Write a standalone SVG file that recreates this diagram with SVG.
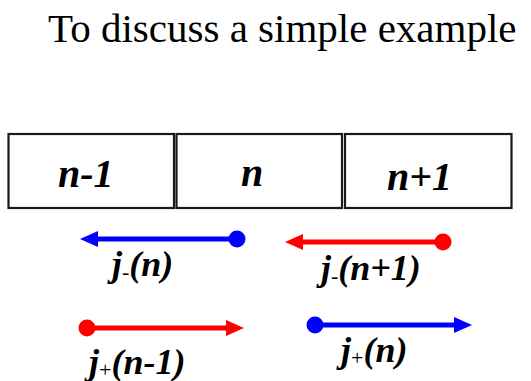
<svg xmlns="http://www.w3.org/2000/svg" width="531" height="381" viewBox="0 0 531 381" font-family="Times New Roman, Liberation Serif, serif">
<rect width="531" height="381" fill="#fff"/>
<text x="48" y="42" font-size="41" fill="#000" font-family="Times New Roman, Liberation Serif, serif">To discuss a simple example</text>
<g id="cell-n-1"><rect x="8.5" y="134" width="165.5" height="74" fill="#fff" stroke="#1a1a1a" stroke-width="2.2"/><text x="58" y="187" fill="#000" font-size="40" font-weight="bold" font-style="italic" font-family="Times New Roman, Liberation Serif, serif">n-1</text></g>
<g id="cell-n"><rect x="176.5" y="134" width="165.5" height="74" fill="#fff" stroke="#1a1a1a" stroke-width="2.2"/><text x="241" y="186" fill="#000" font-size="40" font-weight="bold" font-style="italic" font-family="Times New Roman, Liberation Serif, serif">n</text></g>
<g id="cell-n+1"><rect x="345" y="134" width="166.5" height="74" fill="#fff" stroke="#1a1a1a" stroke-width="2.2"/><text x="387" y="190" fill="#000" font-size="40" font-weight="bold" font-style="italic" font-family="Times New Roman, Liberation Serif, serif">n+1</text></g>
<defs>
<marker id="hb" markerUnits="userSpaceOnUse" markerWidth="18" markerHeight="16" refX="0" refY="8" orient="auto"><path d="M0,0 L18,8 L0,16 z" fill="#0000ff"/></marker>
<marker id="hr" markerUnits="userSpaceOnUse" markerWidth="18" markerHeight="16" refX="0" refY="8" orient="auto"><path d="M0,0 L18,8 L0,16 z" fill="#ff0000"/></marker>
</defs>
<g id="connectors" stroke-width="5">
<g id="jminus-n"><line stroke="#0000ff" x1="237" y1="239" x2="98" y2="239" marker-end="url(#hb)"/><circle fill="#0000ff" stroke="none" cx="237" cy="239" r="8.5"/></g>
<g id="jminus-n1"><line stroke="#ff0000" x1="443" y1="242" x2="303" y2="242" marker-end="url(#hr)"/><circle fill="#ff0000" stroke="none" cx="443" cy="242" r="8.5"/></g>
<g id="jplus-n-1"><line stroke="#ff0000" x1="87" y1="328" x2="226" y2="328" marker-end="url(#hr)"/><circle fill="#ff0000" stroke="none" cx="87" cy="328" r="8.5"/></g>
<g id="jplus-n"><line stroke="#0000ff" x1="315" y1="325" x2="454" y2="325" marker-end="url(#hb)"/><circle fill="#0000ff" stroke="none" cx="315" cy="325" r="8.5"/></g>
</g>
<text x="112" y="276" fill="#000" font-size="36" font-weight="bold" font-style="italic" font-family="Times New Roman, Liberation Serif, serif">j<tspan font-size="22" font-weight="normal" font-style="normal" dy="3">-</tspan><tspan dy="-3">(n)</tspan></text>
<text x="321" y="280" fill="#000" font-size="36" font-weight="bold" font-style="italic" font-family="Times New Roman, Liberation Serif, serif">j<tspan font-size="22" font-weight="normal" font-style="normal" dy="3">-</tspan><tspan dy="-3">(n+1)</tspan></text>
<text x="89" y="374" fill="#000" font-size="36" font-weight="bold" font-style="italic" font-family="Times New Roman, Liberation Serif, serif">j<tspan font-size="22" font-weight="normal" font-style="normal" dy="3">+</tspan><tspan dy="-3">(n-1)</tspan></text>
<text x="341" y="362" fill="#000" font-size="36" font-weight="bold" font-style="italic" font-family="Times New Roman, Liberation Serif, serif">j<tspan font-size="22" font-weight="normal" font-style="normal" dy="3">+</tspan><tspan dy="-3">(n)</tspan></text>
</svg>
